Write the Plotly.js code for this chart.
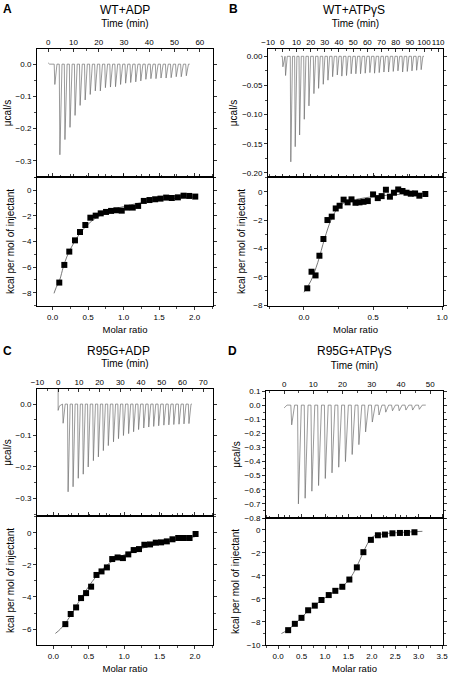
<!DOCTYPE html>
<html>
<head>
<meta charset="utf-8">
<script src="https://cdn.plot.ly/plotly-3.0.1.min.js"></script>
<style>html,body{margin:0;padding:0;background:#fff;}#chart{width:450px;height:674px;}</style>
</head>
<body>
<div id="chart"></div>
<script>
// ---------- DATA ----------
const panelLetters = ['A', 'B', 'C', 'D'];
const panelTitles = ['WT+ADP', 'WT+ATPγS', 'R95G+ADP', 'R95G+ATPγS'];

// Panel A – raw thermogram (injection time in min, peak depth in µcal/s)
const aBaseT = [0, 56];
const aInjT = [2.4, 4.4, 6.4, 8.4, 10.4, 12.4, 14.4, 16.4, 18.4, 20.4, 22.4, 24.4, 26.4, 28.4, 30.4, 32.4, 34.4, 36.4, 38.4, 40.4, 42.4, 44.4, 46.4, 48.4, 50.4, 52.4, 54.4];
const aPeak = [-0.063, -0.281, -0.234, -0.196, -0.159, -0.128, -0.111, -0.094, -0.083, -0.083, -0.073, -0.071, -0.070, -0.063, -0.059, -0.057, -0.055, -0.052, -0.047, -0.045, -0.045, -0.043, -0.043, -0.042, -0.039, -0.039, -0.036];
// Panel A – integrated heats
const aRatio = [0.094, 0.165, 0.235, 0.315, 0.386, 0.461, 0.532, 0.607, 0.678, 0.753, 0.824, 0.899, 0.974, 1.049, 1.129, 1.205, 1.285, 1.365, 1.445, 1.52, 1.60, 1.68, 1.765, 1.845, 1.925, 2.01];
const aHeat = [-7.21, -5.83, -4.79, -3.91, -3.26, -2.71, -2.14, -1.98, -1.80, -1.69, -1.61, -1.56, -1.59, -1.35, -1.35, -1.22, -0.83, -0.76, -0.70, -0.65, -0.57, -0.60, -0.55, -0.42, -0.44, -0.49];
const aFitX = [0.02, 0.05, 0.1, 0.15, 0.2, 0.25, 0.3, 0.35, 0.4, 0.5, 0.6, 0.7, 0.8, 0.9, 1.0, 1.2, 1.4, 1.6, 1.8, 2.02];
const aFitY = [-8.05, -7.6, -7.0, -6.0, -5.2, -4.6, -4.1, -3.65, -3.25, -2.65, -2.2, -1.88, -1.62, -1.42, -1.27, -1.02, -0.83, -0.7, -0.6, -0.52];

// Panel B
const bBaseT = [-1, 100];
const bInjT = [0, 1.9, 5.6, 8.7, 11.8, 15.1, 18.4, 21.9, 25.2, 28.5, 31.8, 35.1, 38.4, 41.6, 44.9, 48.2, 51.5, 54.8, 58.1, 61.4, 64.7, 68.0, 71.3, 74.6, 77.9, 81.2, 84.5, 87.8, 91.1, 94.4, 97.6];
const bPeak = [-0.018, -0.033, -0.181, -0.155, -0.135, -0.108, -0.085, -0.064, -0.055, -0.048, -0.041, -0.035, -0.032, -0.034, -0.033, -0.030, -0.030, -0.030, -0.029, -0.028, -0.029, -0.028, -0.027, -0.027, -0.026, -0.025, -0.027, -0.026, -0.025, -0.024, -0.023];
const bRatio = [0.024, 0.055, 0.084, 0.112, 0.141, 0.170, 0.201, 0.230, 0.258, 0.287, 0.316, 0.344, 0.373, 0.402, 0.431, 0.462, 0.500, 0.534, 0.562, 0.593, 0.622, 0.651, 0.682, 0.713, 0.742, 0.773, 0.804, 0.835, 0.878];
const bHeat = [-6.82, -5.65, -5.91, -4.52, -3.34, -2.0, -1.76, -1.18, -0.99, -0.56, -0.75, -0.54, -0.78, -0.75, -0.71, -0.66, -0.19, -0.45, -0.31, 0.14, -0.35, -0.07, 0.16, 0.05, -0.07, -0.14, -0.12, -0.28, -0.16];
const bFitX = [0.0, 0.05, 0.1, 0.15, 0.2, 0.25, 0.3, 0.35, 0.4, 0.5, 0.6, 0.7, 0.8, 0.88];
const bFitY = [-7.1, -6.3, -5.0, -3.3, -1.9, -1.1, -0.75, -0.6, -0.5, -0.35, -0.25, -0.18, -0.15, -0.13];

// Panel C
const cStartT = [0, 0, 0.6];
const cStartY = [0.1, -0.02, -0.006];
const cBaseT = [64.5];
const cInjT = [2.1, 4.5, 6.9, 9.4, 11.8, 14.2, 16.7, 19.1, 21.5, 23.9, 26.4, 28.8, 31.2, 33.7, 36.1, 38.5, 41.0, 43.4, 45.8, 48.2, 50.7, 53.1, 55.5, 58.0, 60.4, 62.8];
const cPeak = [-0.061, -0.279, -0.263, -0.236, -0.223, -0.200, -0.180, -0.168, -0.148, -0.132, -0.120, -0.110, -0.100, -0.094, -0.088, -0.081, -0.076, -0.073, -0.071, -0.069, -0.067, -0.066, -0.065, -0.064, -0.063, -0.062];
const cRatio = [0.170, 0.246, 0.322, 0.392, 0.463, 0.534, 0.610, 0.681, 0.757, 0.832, 0.908, 0.983, 1.059, 1.135, 1.21, 1.286, 1.366, 1.447, 1.522, 1.603, 1.683, 1.764, 1.844, 1.924, 2.009];
const cHeat = [-5.69, -5.06, -4.65, -4.07, -3.76, -3.36, -2.63, -2.41, -2.16, -1.64, -1.54, -1.58, -1.35, -1.08, -1.02, -0.75, -0.73, -0.62, -0.60, -0.54, -0.41, -0.33, -0.33, -0.33, -0.08];
const cFitX = [0.03, 0.1, 0.2, 0.3, 0.4, 0.5, 0.6, 0.7, 0.8, 0.9, 1.0, 1.1, 1.2, 1.4, 1.6, 1.8, 2.0];
const cFitY = [-6.27, -6.0, -5.45, -4.75, -4.0, -3.35, -2.75, -2.25, -1.87, -1.6, -1.38, -1.2, -1.04, -0.79, -0.58, -0.4, -0.25];

// Panel D
const dBaseT = [0, 48.5];
const dInjT = [2.3, 4.6, 6.9, 9.2, 11.5, 13.8, 16.1, 18.4, 20.7, 23.0, 25.3, 27.6, 29.9, 32.2, 34.5, 36.8, 39.1, 41.4, 43.7, 46.0];
const dPeak = [-0.14, -0.70, -0.66, -0.61, -0.57, -0.52, -0.48, -0.44, -0.40, -0.35, -0.28, -0.19, -0.12, -0.07, -0.05, -0.04, -0.04, -0.035, -0.035, -0.03];
const dRatio = [0.213, 0.356, 0.498, 0.64, 0.782, 0.925, 1.08, 1.22, 1.37, 1.52, 1.68, 1.82, 1.98, 2.13, 2.28, 2.44, 2.60, 2.75, 2.91];
const dHeat = [-8.71, -8.16, -7.64, -6.98, -6.58, -6.09, -5.66, -5.29, -4.94, -4.31, -3.25, -1.93, -0.86, -0.46, -0.40, -0.29, -0.26, -0.26, -0.20];
const dFitX = [0.07, 0.2, 0.4, 0.6, 0.8, 1.0, 1.2, 1.4, 1.5, 1.6, 1.7, 1.8, 1.9, 2.0, 2.1, 2.3, 2.6, 3.08];
const dFitY = [-9.0, -8.7, -8.0, -7.2, -6.5, -5.9, -5.35, -4.8, -4.4, -3.8, -3.0, -2.1, -1.25, -0.65, -0.45, -0.32, -0.22, -0.12];

// tick labels / titles
const timeTitle = 'Time (min)';
const rawTitle = 'μcal/s';
const heatTitle = 'kcal per mol of injectant';
const ratioTitle = 'Molar ratio';

// ---------- STYLE / LAYOUT ----------
const FONT = 'Liberation Sans, Arial, sans-serif';
const W = 450, H = 674;
const spikeShape = [[0.25, 1.1], [0.4, 1.6], [0.3, 1.3], [0.3, 1.3]]; // drop / recovery offsets (min)

function thermogram(startT, startY, injT, peaks, endT, shape) {
  const x = startT.slice(), y = startY.slice();
  injT.forEach((t, i) => {
    x.push(t, t + shape[0], t + shape[1]);
    y.push(0, peaks[i], 0);
  });
  endT.forEach(t => { x.push(t); y.push(0); });
  return {x, y};
}

const raws = [
  thermogram([aBaseT[0], 0.6], [0.004, 0], aInjT, aPeak, [aBaseT[1]], spikeShape[0]),
  thermogram([bBaseT[0]], [0], bInjT, bPeak, [bBaseT[1]], spikeShape[1]),
  thermogram(cStartT, cStartY, cInjT, cPeak, cBaseT, spikeShape[2]),
  thermogram([dBaseT[0], 1.0], [-0.02, 0], dInjT, dPeak, [dBaseT[1]], spikeShape[3])
];
const pts = [[aRatio, aHeat], [bRatio, bHeat], [cRatio, cHeat], [dRatio, dHeat]];
const fits = [[aFitX, aFitY], [bFitX, bFitY], [cFitX, cFitY], [dFitX, dFitY]];

// pixel geometry of the eight plot boxes
const pxX = [[37, 213], [268, 443], [37, 213], [266, 443]];
const pxTop = [[49, 177], [49, 177], [389, 516], [391, 518]];
const pxBot = [[177, 306], [177, 306], [516, 645], [518, 645]];

const timeRange = [[-4.4, 65.2], [-10.1, 113.4], [-10.2, 74.7], [-6.2, 54.4]];
const timeDtick = [10, 10, 10, 10];
const timeStandoff = [8, 8, 8, 8];
const rawRange = [[-0.35, 0.047], [-0.207, 0.0125], [-0.356, 0.048], [-0.8, 0.1]];
const rawDtick = [0.1, 0.05, 0.1, 0.1];
const rawFmt = ['.1f', '.2f', '.1f', '.1f'];
const ratioRange = [[-0.22, 2.26], [-0.26, 1.006], [-0.23, 2.255], [-0.26, 3.52]];
const heatRange = [[-9.04, 1.04], [-8.07, 1.04], [-6.99, 1.04], [-10, 1.04]];

const traces = [];
const layout = {
  width: W, height: H,
  margin: {l: 0, r: 0, t: 0, b: 0},
  paper_bgcolor: '#fff', plot_bgcolor: '#fff',
  showlegend: false,
  font: {family: FONT, color: '#000', size: 9},
  annotations: []
};

const base = {
  showline: true, linecolor: '#000', linewidth: 1, mirror: 'ticks',
  showgrid: false, zeroline: false, automargin: false, tickangle: 0,
  ticklen: 3, tickwidth: 0.8, tickcolor: '#000',
  tickfont: {family: FONT, size: 8, color: '#000'}
};

for (let i = 0; i < 4; i++) {
  const xa = 2 * i + 1, xb = 2 * i + 2;
  const dx = [pxX[i][0] / W, pxX[i][1] / W];
  const dyT = [1 - pxTop[i][1] / H, 1 - pxTop[i][0] / H];
  const dyB = [1 - pxBot[i][1] / H, 1 - pxBot[i][0] / H];

  traces.push({
    type: 'scatter', mode: 'lines', x: raws[i].x, y: raws[i].y,
    xaxis: 'x' + xa, yaxis: 'y' + xa,
    line: {color: '#6f6f6f', width: 0.7}, hoverinfo: 'skip'
  });
  traces.push({
    type: 'scatter', mode: 'lines', x: fits[i][0], y: fits[i][1],
    xaxis: 'x' + xb, yaxis: 'y' + xb,
    line: {color: '#555', width: 0.8, shape: 'spline'}, hoverinfo: 'skip'
  });
  traces.push({
    type: 'scatter', mode: 'markers', x: pts[i][0], y: pts[i][1],
    xaxis: 'x' + xb, yaxis: 'y' + xb,
    marker: {symbol: 'square', size: 6, color: '#000'}, hoverinfo: 'skip'
  });

  layout['xaxis' + xa] = Object.assign({}, base, {
    domain: dx, anchor: 'y' + xa, side: 'top', range: timeRange[i],
    ticks: 'inside', dtick: timeDtick[i], tick0: 0,
    minor: {ticks: 'inside', ticklen: 2, dtick: timeDtick[i] / 2, tickcolor: '#000', tickwidth: 0.7},
    title: {text: timeTitle, font: {family: FONT, size: 10}, standoff: timeStandoff[i]}
  });
  layout['yaxis' + xa] = Object.assign({}, base, {
    domain: dyT, anchor: 'x' + xa, range: rawRange[i],
    ticks: 'outside', dtick: rawDtick[i], tick0: 0, tickformat: rawFmt[i],
    minor: {ticks: 'outside', ticklen: 2, dtick: rawDtick[i] / 2, tickcolor: '#000', tickwidth: 0.7},
    title: {text: rawTitle, font: {family: FONT, size: 10}, standoff: 2}
  });
  layout['xaxis' + xb] = Object.assign({}, base, {
    domain: dx, anchor: 'y' + xb, side: 'bottom', range: ratioRange[i],
    ticks: 'outside', dtick: 0.5, tick0: 0, tickformat: '.1f',
    minor: {ticks: 'outside', ticklen: 2, dtick: 0.25, tickcolor: '#000', tickwidth: 0.7},
    title: {text: ratioTitle, font: {family: FONT, size: 9.5}, standoff: 5}
  });
  layout['yaxis' + xb] = Object.assign({}, base, {
    domain: dyB, anchor: 'x' + xb, range: heatRange[i],
    ticks: 'outside', dtick: 2, tick0: 0,
    minor: {ticks: 'outside', ticklen: 2, dtick: 1, tickcolor: '#000', tickwidth: 0.7},
    title: {text: heatTitle, font: {family: FONT, size: 10}, standoff: 5}
  });
}

const letterPos = [[7, 9], [233, 9], [7, 350.5], [232, 350.5]];
const titlePos = [[125, 9.5], [354, 9.5], [118, 350.5], [354, 350.5]];
for (let i = 0; i < 4; i++) {
  layout.annotations.push({
    text: '<b>' + panelLetters[i] + '</b>', xref: 'paper', yref: 'paper',
    x: letterPos[i][0] / W, y: 1 - letterPos[i][1] / H, xanchor: 'center', yanchor: 'middle',
    showarrow: false, font: {family: FONT, size: 12, color: '#000'}
  });
  layout.annotations.push({
    text: panelTitles[i], xref: 'paper', yref: 'paper',
    x: titlePos[i][0] / W, y: 1 - titlePos[i][1] / H, xanchor: 'center', yanchor: 'middle',
    showarrow: false, font: {family: FONT, size: 12, color: '#000'}
  });
}

Plotly.newPlot('chart', traces, layout, {displayModeBar: false, staticPlot: true});
</script>
</body>
</html>
